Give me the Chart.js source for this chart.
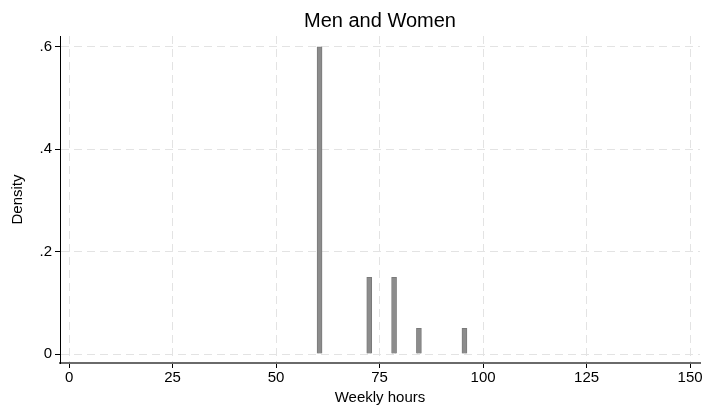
<!DOCTYPE html>
<html>
<head>
<meta charset="utf-8">
<script src="https://cdn.jsdelivr.net/npm/chart.js@4"></script>
<style>
  html, body { margin: 0; padding: 0; background: #fff; }
  #wrap { width: 705px; height: 409px; }
</style>
</head>
<body>
<div id="wrap"><canvas id="chart" width="705" height="409"></canvas></div>
<script>
// histogram bins (bin centers, weekly hours) and density heights
const binCenters = [60.5, 72.5, 78.5, 84.5, 95.5]
const density = [0.6, 0.15, 0.15, 0.05, 0.05]
const xTicks = [0, 25, 50, 75, 100, 125, 150]
const yTicks = [0, 0.2, 0.4, 0.6]

const font = 'Liberation Sans, Arial, Helvetica, sans-serif'

const points = binCenters.map((x, i) => ({ x: x, y: density[i] }))

const ctx = document.getElementById('chart').getContext('2d')

new Chart(ctx, {
  type: 'bar',
  data: {
    datasets: [{
      data: points,
      backgroundColor: '#8c8c8c',
      borderColor: '#7a7a7a',
      borderWidth: 1,
      barThickness: 5
    }]
  },
  options: {
    responsive: false,
    animation: false,
    layout: { padding: { left: 0, right: 5, top: 0, bottom: 0 } },
    plugins: {
      legend: { display: false },
      tooltip: { enabled: false },
      title: {
        display: true,
        text: 'Men and Women',
        fullSize: false,
        color: '#000',
        font: { family: font, size: 20, weight: 'normal' },
        padding: { top: 9, bottom: 3 }
      }
    },
    scales: {
      x: {
        type: 'linear',
        min: -2.2,
        max: 152.4,
        offset: false,
        afterBuildTicks: (scale) => { scale.ticks = xTicks.map(v => ({ value: v })) },
        afterFit: (scale) => { scale.height = 46 },
        ticks: {
          color: '#000',
          font: { family: font, size: 15 },
          padding: 1,
          maxRotation: 0,
          autoSkip: false
        },
        grid: {
          offset: false,
          color: '#e3e3e3',
          lineWidth: 1,
          drawTicks: true,
          tickLength: 5,
          tickColor: '#000',
          tickBorderDash: []
        },
        border: { display: true, color: '#6a6a6a', width: 2, dash: [8, 5] },
        title: {
          display: true,
          text: 'Weekly hours',
          color: '#000',
          font: { family: font, size: 15 },
          padding: { top: 0, bottom: 2 }
        }
      },
      y: {
        type: 'linear',
        min: -0.0175,
        max: 0.621,
        afterBuildTicks: (scale) => { scale.ticks = yTicks.map(v => ({ value: v })) },
        afterFit: (scale) => { scale.width = 60 },
        ticks: {
          color: '#000',
          font: { family: font, size: 15 },
          padding: 3,
          callback: (v) => v === 0 ? '0' : String(Math.round(v * 10) / 10).replace(/^0/, '')
        },
        grid: {
          color: '#e3e3e3',
          lineWidth: 1,
          drawTicks: true,
          tickLength: 5,
          tickColor: '#000',
          tickBorderDash: []
        },
        border: { display: true, color: '#000', width: 1, dash: [8, 5] },
        title: {
          display: true,
          text: 'Density',
          color: '#000',
          font: { family: font, size: 15 },
          padding: { top: 9, bottom: 0 }
        }
      }
    }
  }
})
</script>
</body>
</html>
